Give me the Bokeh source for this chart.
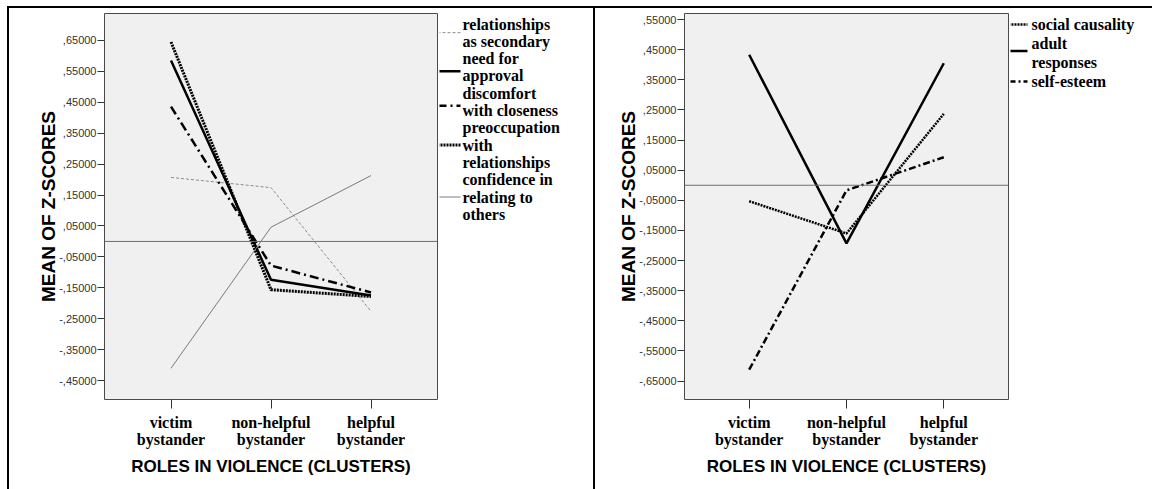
from bokeh.plotting import figure
from bokeh.models import FactorRange, Range1d, FixedTicker, Span, Div, Spacer
from bokeh.layouts import row, column
from bokeh.embed import file_html
from bokeh.resources import INLINE
from bokeh.core.properties import value

# ---------------- data ----------------
clusters = ["victim\nbystander", "non-helpful\nbystander", "helpful\nbystander"]

# left chart (attachment dimensions)
left_labels = ["relationships\nas secondary", "need for\napproval",
               "discomfort\nwith closeness", "preoccupation\nwith\nrelationships",
               "confidence in\nrelating to\nothers"]
rel_secondary = [0.207, 0.174, -0.226]
need_approval = [0.585, -0.124, -0.175]
discomfort_closeness = [0.436, -0.078, -0.165]
preoccupation = [0.645, -0.156, -0.178]
confidence = [-0.410, 0.046, 0.213]
left_ticks = [0.65, 0.55, 0.45, 0.35, 0.25, 0.15, 0.05, -0.05, -0.15, -0.25, -0.35, -0.45]
left_tick_labels = [",65000", ",55000", ",45000", ",35000", ",25000", ",15000", ",05000",
                    "-,05000", "-,15000", "-,25000", "-,35000", "-,45000"]

# right chart
right_labels = ["social causality", "adult\nresponses", "self-esteem"]
social_causality = [-0.053, -0.160, 0.237]
adult_responses = [0.433, -0.193, 0.405]
self_esteem = [-0.612, -0.017, 0.093]
right_ticks = [0.55, 0.45, 0.35, 0.25, 0.15, 0.05, -0.05, -0.15, -0.25, -0.35, -0.45, -0.55, -0.65]
right_tick_labels = [",55000", ",45000", ",35000", ",25000", ",15000", ",05000", "-,05000",
                     "-,15000", "-,25000", "-,35000", "-,45000", "-,55000", "-,65000"]

x_title = "ROLES IN VIOLENCE (CLUSTERS)"
y_title = "MEAN OF Z-SCORES"

# ---------------- styles ----------------
left_styles = [
    dict(line_color="#8c8c8c", line_width=1, line_dash="3 2"),
    dict(line_color="black", line_width=2.5, line_dash="solid"),
    dict(line_color="black", line_width=2.5, line_dash="9 4 2 4"),
    dict(line_color="black", line_width=3, line_dash="2 1"),
    dict(line_color="#7a7a7a", line_width=1, line_dash="solid"),
]
right_styles = [
    dict(line_color="black", line_width=2.5, line_dash="2 1"),
    dict(line_color="black", line_width=2.5, line_dash="solid"),
    dict(line_color="black", line_width=2.5, line_dash="7 3 2 3"),
]

SANS = "Liberation Sans"
SERIF = "Liberation Serif"
H = 481       # row height
TOP = 5       # frame top offset inside row
BOTTOM = 90   # space below frame
ROW_Y0 = 8    # page y of row top


def make_chart(series, styles, yr, ticks, tick_labels, width, min_left):
    p = figure(x_range=FactorRange(factors=clusters, range_padding=0.11),
               y_range=Range1d(*yr), width=width, height=H,
               min_border_left=min_left, min_border_right=2, min_border_top=TOP,
               min_border_bottom=BOTTOM, output_backend="svg", toolbar_location=None,
               background_fill_color="#f0f0f0", outline_line_color="#4a4a4a",
               outline_line_width=1)
    p.xgrid.visible = False
    p.ygrid.visible = False
    p.add_layout(Span(location=0, dimension="width", line_color="#6e6e6e", line_width=1))
    for ys, st in zip(series, styles):
        p.line(x=clusters, y=ys, **st)

    xa = p.xaxis[0]
    xa.axis_line_color = None
    xa.major_tick_out = 9
    xa.major_tick_in = 0
    xa.major_tick_line_color = "#333333"
    xa.major_label_text_font = SERIF
    xa.major_label_text_font_style = "bold"
    xa.major_label_text_font_size = "16px"
    xa.major_label_text_color = "black"
    xa.major_label_text_line_height = 1.05
    xa.major_label_standoff = 5
    xa.axis_label = x_title
    xa.axis_label_text_font = SANS
    xa.axis_label_text_font_style = "bold"
    xa.axis_label_text_font_size = "17px"
    xa.axis_label_text_color = "black"
    xa.axis_label_standoff = 6

    ya = p.yaxis[0]
    ya.ticker = FixedTicker(ticks=ticks)
    ya.major_label_overrides = dict(zip(ticks, tick_labels))
    ya.axis_line_color = None
    ya.major_tick_out = 7
    ya.major_tick_in = 0
    ya.minor_tick_line_color = None
    ya.major_tick_line_color = "#333333"
    ya.major_label_text_font = SANS
    ya.major_label_text_font_size = "11px"
    ya.major_label_text_color = "#333333"
    ya.major_label_standoff = 1
    ya.axis_label = y_title
    ya.axis_label_text_font = SANS
    ya.axis_label_text_font_style = "bold"
    ya.axis_label_text_font_size = "19px"
    ya.axis_label_text_color = "black"
    ya.axis_label_standoff = -3
    return p


def make_legend(x0, width, labels, styles, first_y, spacing, sym_len, text_dx, sym_adj):
    # legend panel laid out in page-pixel coordinates
    lg = figure(width=width, height=H, x_range=Range1d(x0, x0 + width),
                y_range=Range1d(ROW_Y0 + H - BOTTOM, ROW_Y0 + TOP),
                x_axis_type=None, y_axis_type=None, min_border_left=0, min_border_right=0,
                min_border_top=TOP, min_border_bottom=BOTTOM, output_backend="svg",
                toolbar_location=None, outline_line_color=None)
    lg.xgrid.visible = False
    lg.ygrid.visible = False
    xs, ys, ts = [], [], []
    line_i = 0
    for k, (lab, st) in enumerate(zip(labels, styles)):
        parts = lab.split("\n")
        block = []
        for part in parts:
            y = first_y + spacing * line_i
            xs.append(x0 + text_dx)
            ys.append(y)
            ts.append(part)
            block.append(y)
            line_i += 1
        ysym = (block[0] + block[-1]) / 2 + sym_adj[k]
        lg.line(x=[x0 - 2, x0 + sym_len], y=[ysym, ysym], **st)
    lg.text(x=xs, y=ys, text=ts, text_font=value(SERIF), text_font_style="bold",
            text_font_size="16px", text_baseline="middle", text_color="black")
    return lg


left = make_chart([rel_secondary, need_approval, discomfort_closeness, preoccupation, confidence],
                  left_styles, (-0.511, 0.737), left_ticks, left_tick_labels, 430, 95)
right = make_chart([social_causality, adult_responses, self_esteem],
                   right_styles, (-0.711, 0.570), right_ticks, right_tick_labels, 415, 89)

leg_left = make_legend(439, 154, left_labels, left_styles, 23.5, 17.3, 21, 23, [0, 4, 4, 0, 0])
leg_right = make_legend(1010, 142, right_labels, right_styles, 24, 19, 17, 21, [0, -2, 0])

vline1 = Div(width=2, height=H, margin=0, styles={"background-color": "black"})
vline2 = Div(width=2, height=H, margin=0, styles={"background-color": "black"})
top_rule = row(Spacer(width=7, height=2, margin=0),
               Div(width=1145, height=2, margin=0, styles={"background-color": "black"}),
               spacing=0)

layout = column(Spacer(width=1152, height=6, margin=0), top_rule,
                row(Spacer(width=7, height=H, margin=0), vline1, left, leg_left, vline2,
                    right, leg_right, spacing=0),
                spacing=0)

open("out.html", "w").write(file_html(layout, INLINE))
